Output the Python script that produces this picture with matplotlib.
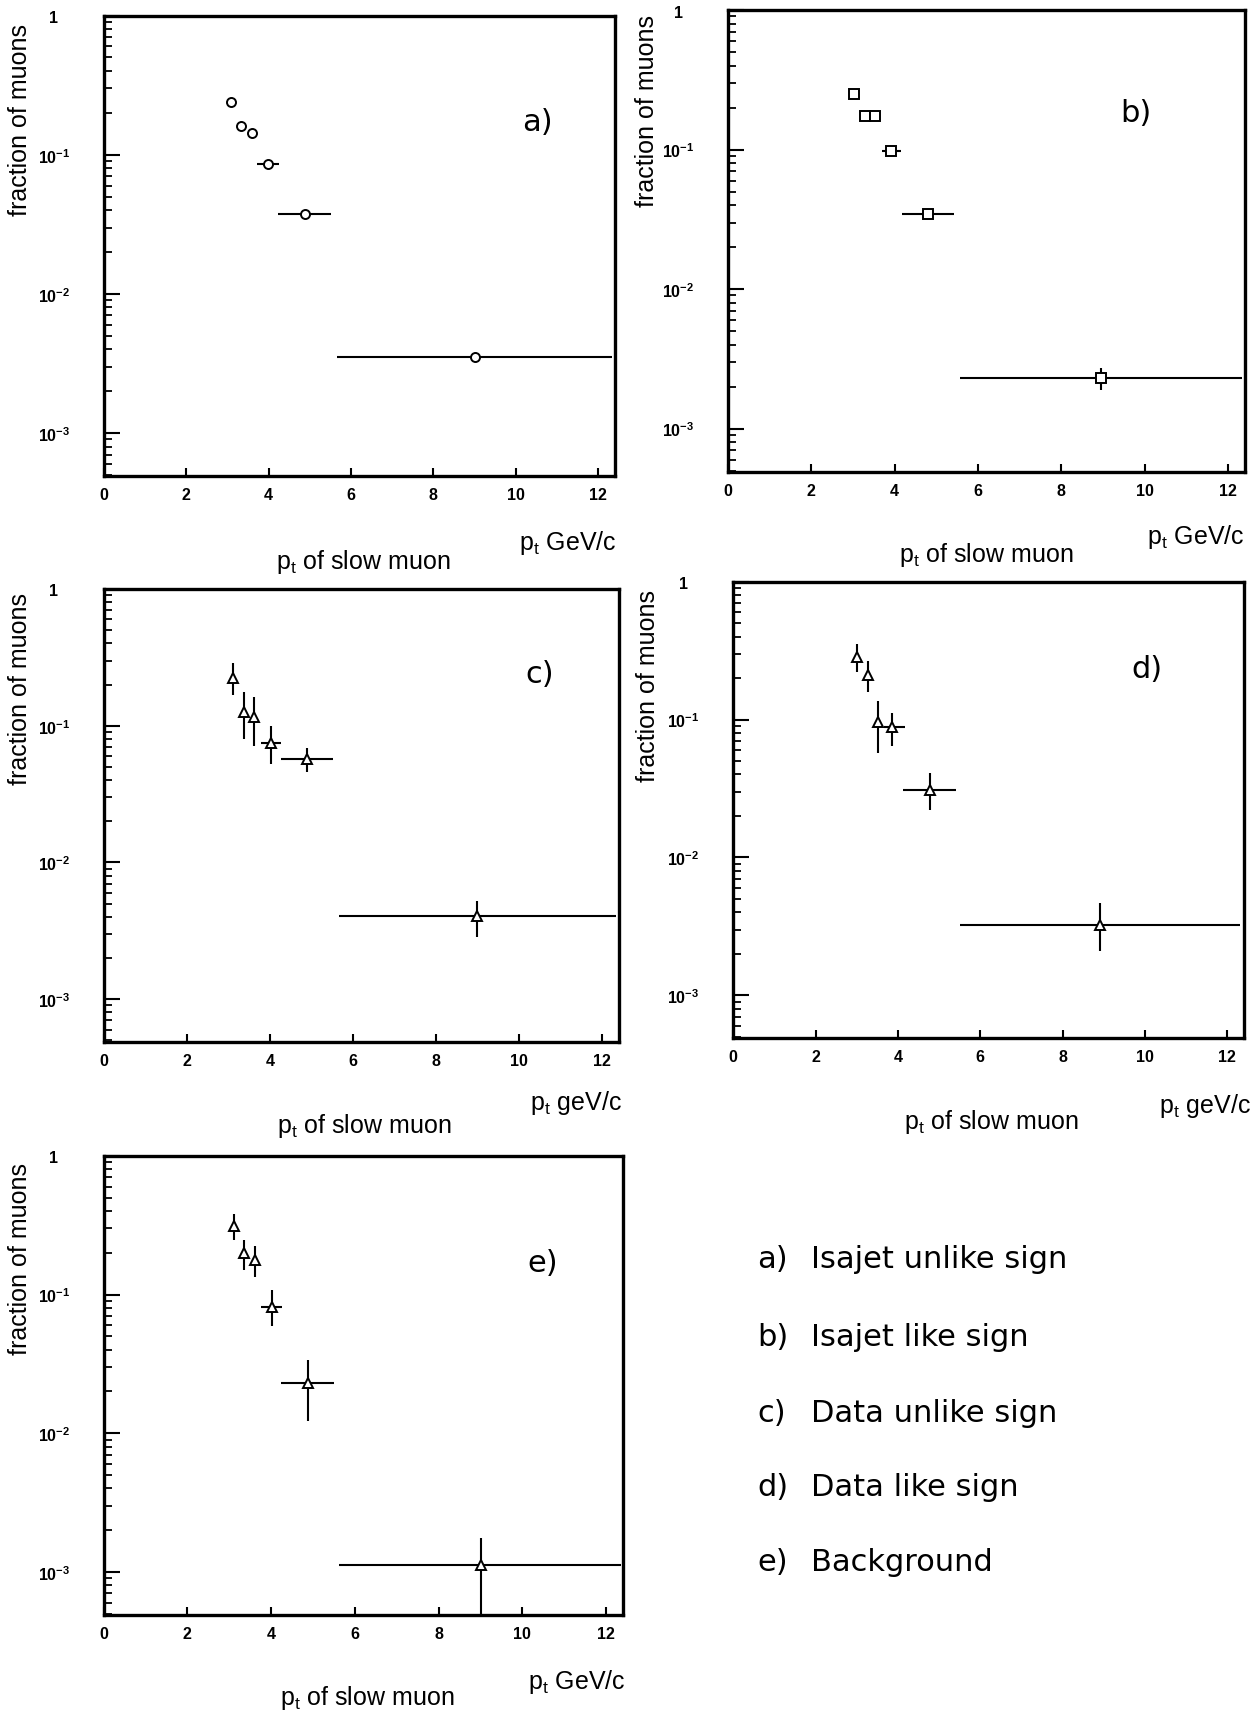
import numpy as np
import matplotlib
matplotlib.use("Agg")
import matplotlib.pyplot as plt
from matplotlib.ticker import FixedLocator, FixedFormatter, LogLocator, NullFormatter, NullLocator

plt.rcParams["font.family"] = ["Liberation Sans", "DejaVu Sans"]
plt.rcParams["mathtext.fontset"] = "custom"
plt.rcParams["mathtext.rm"] = "Liberation Sans"
plt.rcParams["mathtext.bf"] = "Liberation Sans:bold"
plt.rcParams["mathtext.it"] = "Liberation Sans:italic"

# ---------------------------------------------------------------- data
# Fraction of muons versus pt of the slow muon, five samples.
# x: bin centre, xlo/xhi: bin edges, ylo/yhi: error band (None = no error bar)

a_x   = [3.09, 3.33, 3.59, 3.99, 4.89, 9.00]
a_y   = [0.24, 0.16, 0.144, 0.086, 0.0378, 0.0035]
a_xlo = [3.09, 3.33, 3.59, 3.72, 4.24, 5.65]
a_xhi = [3.09, 3.33, 3.59, 4.26, 5.52, 12.34]

b_x   = [3.02, 3.28, 3.52, 3.90, 4.79, 8.94]
b_y   = [0.25, 0.174, 0.174, 0.098, 0.0348, 0.0023]
b_xlo = [3.02, 3.28, 3.52, 3.69, 4.18, 5.57]
b_xhi = [3.02, 3.28, 3.52, 4.16, 5.43, 12.34]
b_ylo = [0.25, 0.174, 0.174, 0.098, 0.0348, 0.00188]
b_yhi = [0.25, 0.174, 0.174, 0.098, 0.0348, 0.0027]

c_x   = [3.12, 3.38, 3.62, 4.02, 4.89, 9.00]
c_y   = [0.225, 0.127, 0.115, 0.075, 0.057, 0.00404]
c_xlo = [3.12, 3.38, 3.62, 3.78, 4.28, 5.67]
c_xhi = [3.12, 3.38, 3.62, 4.26, 5.52, 12.34]
c_ylo = [0.168, 0.080, 0.0708, 0.0527, 0.046, 0.00285]
c_yhi = [0.288, 0.176, 0.163, 0.0993, 0.0687, 0.00527]

d_x   = [3.01, 3.28, 3.52, 3.86, 4.78, 8.90]
d_y   = [0.285, 0.21, 0.096, 0.088, 0.031, 0.00326]
d_xlo = [3.01, 3.28, 3.52, 3.66, 4.13, 5.50]
d_xhi = [3.01, 3.28, 3.52, 4.17, 5.41, 12.30]
d_ylo = [0.223, 0.159, 0.0573, 0.0647, 0.022, 0.00208]
d_yhi = [0.353, 0.265, 0.137, 0.112, 0.0409, 0.00466]

e_x   = [3.11, 3.35, 3.62, 4.01, 4.89, 9.02]
e_y   = [0.31, 0.198, 0.177, 0.0815, 0.0229, 0.00112]
e_xlo = [3.11, 3.35, 3.62, 3.76, 4.24, 5.63]
e_xhi = [3.11, 3.35, 3.62, 4.26, 5.51, 12.35]
e_ylo = [0.248, 0.151, 0.134, 0.0598, 0.0122, 0.0]
e_yhi = [0.378, 0.248, 0.224, 0.1076, 0.0339, 0.00176]

x_ticks = [0, 2, 4, 6, 8, 10, 12]
x_tick_labels = ["0", "2", "4", "6", "8", "10", "12"]
y_ticks = [1e-3, 1e-2, 1e-1, 1.0]
y_tick_labels = [r"$\mathbf{10^{-3}}$", r"$\mathbf{10^{-2}}$", r"$\mathbf{10^{-1}}$", r"$\mathbf{1}$"]

legend_keys = ["a)", "b)", "c)", "d)", "e)"]
legend_texts = ["Isajet unlike sign", "Isajet like sign", "Data unlike sign",
                "Data like sign", "Background"]

# ---------------------------------------------------------------- figure
W, H = 1258, 1715
fig = plt.figure(figsize=(W / 100, H / 100), dpi=100)
fig.patch.set_facecolor("white")

LETTER_FONT = ["DejaVu Sans"]


def fx(px):
    return px / W


def fy(py):
    return 1 - py / H


def panel(box, x, y, xlo, xhi, ylo, yhi, marker, letter, letter_pos,
          ylab_xy, xlab_xy, unit_xy, unit_text):
    L, R, T, B = box
    ax = fig.add_axes([fx(L), fy(B), (R - L) / W, (B - T) / H])
    ax.set_yscale("log", nonpositive="clip")
    ax.set_xlim(0, 12.4)
    ax.set_ylim(4.9e-4, 1.0)

    x = np.asarray(x)
    y = np.asarray(y)
    xerr = [x - np.asarray(xlo), np.asarray(xhi) - x]
    yerr = None
    if ylo is not None:
        yerr = [y - np.asarray(ylo), np.asarray(yhi) - y]
    ax.errorbar(x, y, xerr=xerr, yerr=yerr, fmt=marker, ms=6.5,
                mfc="white", mec="black", mew=1.4, ecolor="black",
                elinewidth=1.5, capsize=0, zorder=3)

    for s in ax.spines.values():
        s.set_linewidth(2.4)

    ax.xaxis.set_major_locator(FixedLocator(x_ticks))
    ax.xaxis.set_major_formatter(FixedFormatter(x_tick_labels))
    ax.xaxis.set_minor_locator(NullLocator())
    ax.yaxis.set_major_locator(FixedLocator(y_ticks))
    ax.yaxis.set_major_formatter(FixedFormatter(y_tick_labels))
    ax.yaxis.set_minor_locator(LogLocator(base=10, subs=np.arange(2, 10)))
    ax.yaxis.set_minor_formatter(NullFormatter())

    ax.tick_params(axis="x", which="major", direction="in", length=6,
                   width=1.5, pad=8, labelsize=11.5, top=False)
    ax.tick_params(axis="y", which="major", direction="in", length=11.5,
                   width=1.5, pad=36, labelsize=11.5, right=False)
    ax.tick_params(axis="y", which="minor", direction="in", length=5.5,
                   width=1.3, right=False)
    for lbl in ax.get_xticklabels():
        lbl.set_fontweight("bold")
    for lbl in ax.get_yticklabels():
        lbl.set_horizontalalignment("center")

    ax.text(letter_pos[0], letter_pos[1], letter, transform=ax.transAxes,
            fontsize=22, family=LETTER_FONT, ha="center", va="center")

    fig.text(fx(ylab_xy[0]), fy(ylab_xy[1]), "fraction of muons",
             rotation=90, fontsize=18, ha="center", va="center")
    fig.text(fx(xlab_xy[0]), fy(xlab_xy[1]),
             r"$\mathregular{p_t}$ of slow muon",
             fontsize=18, ha="center", va="center")
    fig.text(fx(unit_xy[0]), fy(unit_xy[1]),
             r"$\mathregular{p_t}$ " + unit_text,
             fontsize=18, ha="right", va="center")
    return ax


panel((103.7, 614.7, 16.6, 477.2), a_x, a_y, a_xlo, a_xhi, None, None,
      "o", "a)", (0.848, 0.769), (20, 120), (363, 562), (616, 543), "GeV/c")
panel((728.1, 1244.7, 11.1, 472.8), b_x, b_y, b_xlo, b_xhi, b_ylo, b_yhi,
      "s", "b)", (0.79, 0.779), (647, 111), (986, 555), (1244, 537), "GeV/c")
panel((103.7, 618.7, 590.0, 1042.6), c_x, c_y, c_xlo, c_xhi, c_ylo, c_yhi,
      "^", "c)", (0.847, 0.814), (20, 689), (364, 1126), (622, 1103), "geV/c")
panel((733.3, 1243.9, 582.7, 1039.0), d_x, d_y, d_xlo, d_xhi, d_ylo, d_yhi,
      "^", "d)", (0.81, 0.809), (648, 686), (991, 1122), (1251, 1106), "geV/c")
panel((103.7, 622.7, 1156.9, 1615.8), e_x, e_y, e_xlo, e_xhi, e_ylo, e_yhi,
      "^", "e)", (0.845, 0.767), (20, 1259), (367, 1698), (625, 1682), "GeV/c")

# key to the panels
legend_rows = [1260, 1337, 1413, 1488, 1563]
for key, txt, row in zip(legend_keys, legend_texts, legend_rows):
    fig.text(fx(757), fy(row), key, fontsize=22, family=LETTER_FONT,
             ha="left", va="center")
    fig.text(fx(811), fy(row), txt, fontsize=22, family=LETTER_FONT,
             ha="left", va="center")

fig.savefig("out.png", dpi=100, facecolor="white")
